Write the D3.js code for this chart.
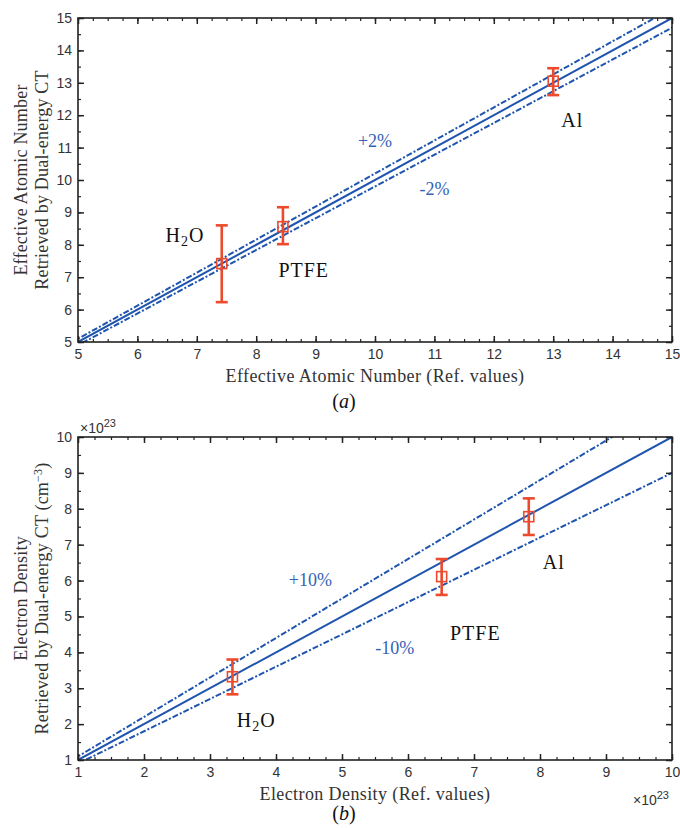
<!DOCTYPE html>
<html>
<head>
<meta charset="utf-8">
<script src="https://cdn.jsdelivr.net/npm/d3@7"></script>
<style>
  body { margin: 0; background: #fff; }
  .tick text { font-family: "Liberation Sans", Arial, sans-serif; font-size: 14px; fill: #333; }
</style>
</head>
<body>
<script>
"use strict";

// materials
var materials = ["H2O", "PTFE", "Al"];

// (a) effective atomic number
var zRef  = [7.42, 8.45, 13.0];
var zMeas = [7.42, 8.56, 13.05];
var zLow  = [6.23, 8.02, 12.62];
var zHigh = [8.60, 9.16, 13.45];
var zBand = [1.02, 0.98];
var zTicks = [5, 6, 7, 8, 9, 10, 11, 12, 13, 14, 15];

// (b) electron density (x 10^23)
var rhoRef  = [3.34, 6.51, 7.83];
var rhoMeas = [3.32, 6.11, 7.78];
var rhoLow  = [2.83, 5.60, 7.27];
var rhoHigh = [3.80, 6.60, 8.29];
var rhoBand = [1.1, 0.9];
var rhoTicks = [1, 2, 3, 4, 5, 6, 7, 8, 9, 10];

var blue = "#1f55ae";
var labelBlue = "#3562b5";
var red = "#ec4a2c";
var serif = "'Liberation Serif', 'Times New Roman', serif";

var width = 680, height = 828;
var svg = d3.select("body").append("svg")
    .attr("width", width)
    .attr("height", height);

function draw_panel(cfg) {
    var x = d3.scaleLinear().domain(cfg.domain).range([78, 672]);
    var y = d3.scaleLinear().domain(cfg.domain).range([cfg.bottom, cfg.top]);
    var g = svg.append("g");

    var clipId = "clip" + cfg.id;
    g.append("clipPath").attr("id", clipId)
        .append("rect")
        .attr("x", x.range()[0]).attr("y", cfg.top)
        .attr("width", x.range()[1] - x.range()[0])
        .attr("height", cfg.bottom - cfg.top);

    // reference lines y = x and the +/- band
    var line = d3.line().x(function(d) { return x(d[0]); }).y(function(d) { return y(d[1]); });
    var lines = [1].concat(cfg.band);
    var x0 = cfg.domain[0], x1 = cfg.domain[1];
    g.append("g").attr("clip-path", "url(#" + clipId + ")")
        .selectAll("path")
        .data(lines)
        .enter()
        .append("path")
        .attr("d", function(k) { return line([[x0 * 0.8, x0 * 0.8 * k], [x1 * 1.2, x1 * 1.2 * k]]); })
        .attr("fill", "none")
        .attr("stroke", blue)
        .attr("stroke-width", 2)
        .attr("stroke-dasharray", function(k) { return k === 1 ? null : "6,2,2,2"; });

    // minor ticks, inward, all four sides
    var minorX = d3.range(cfg.domain[0], cfg.domain[1] + 0.001, 0.25);
    var minorY = d3.range(cfg.domain[0], cfg.domain[1] + 0.001, 0.5);
    var minors = [
        [d3.axisBottom(x), "translate(0," + cfg.bottom + ")", minorX],
        [d3.axisTop(x), "translate(0," + cfg.top + ")", minorX],
        [d3.axisLeft(y), "translate(78,0)", minorY],
        [d3.axisRight(y), "translate(672,0)", minorY]
    ];
    minors.forEach(function(a) {
        var s = g.append("g").attr("transform", a[1])
            .call(a[0].tickValues(a[2]).tickSize(-3).tickFormat(""));
        s.select(".domain").remove();
        s.selectAll("line").attr("stroke", "#222").attr("stroke-width", 1.2);
    });
    // major ticks
    var majors = [
        [d3.axisBottom(x), "translate(0," + cfg.bottom + ")", true, 7],
        [d3.axisTop(x), "translate(0," + cfg.top + ")", false, 6],
        [d3.axisLeft(y), "translate(78,0)", true, 6],
        [d3.axisRight(y), "translate(672,0)", false, 6]
    ];
    majors.forEach(function(a) {
        var ax = a[0].tickValues(cfg.ticks).tickSize(-6).tickPadding(a[3])
            .tickFormat(a[2] ? d3.format("d") : "");
        var s = g.append("g").attr("transform", a[1]).call(ax);
        s.select(".domain").remove();
        s.selectAll("line").attr("stroke", "#222").attr("stroke-width", 1.5);
    });
    g.append("rect")
        .attr("x", 78).attr("y", cfg.top)
        .attr("width", 594).attr("height", cfg.bottom - cfg.top)
        .attr("fill", "none").attr("stroke", "#222").attr("stroke-width", 1.6);

    // error bars with square markers
    var pts = materials.map(function(m, i) {
        return { name: m, x: cfg.xs[i], y: cfg.ys[i], lo: cfg.lo[i], hi: cfg.hi[i] };
    });
    var eb = g.selectAll(".eb").data(pts).enter().append("g").attr("class", "eb")
        .attr("stroke", red).attr("fill", "none");
    eb.append("line")
        .attr("x1", function(d) { return x(d.x); }).attr("x2", function(d) { return x(d.x); })
        .attr("y1", function(d) { return y(d.lo); }).attr("y2", function(d) { return y(d.hi); })
        .attr("stroke-width", 2.6);
    ["lo", "hi"].forEach(function(k) {
        eb.append("line")
            .attr("x1", function(d) { return x(d.x) - 6; }).attr("x2", function(d) { return x(d.x) + 6; })
            .attr("y1", function(d) { return y(d[k]); }).attr("y2", function(d) { return y(d[k]); })
            .attr("stroke-width", 2.6);
    });
    eb.append("rect")
        .attr("x", function(d) { return x(d.x) - 5; })
        .attr("y", function(d) { return y(d.y) - 5; })
        .attr("width", 10).attr("height", 10)
        .attr("fill", "none")
        .attr("stroke-width", 1.6);

    // annotations
    cfg.notes.forEach(function(n) {
        var t = g.append("text").attr("font-family", serif)
            .attr("x", x(n.x)).attr("y", y(n.y)).attr("dy", "0.35em")
            .attr("text-anchor", "middle")
            .attr("font-size", n.blue ? 18 : 20)
            .attr("letter-spacing", n.blue ? 0 : 1)
            .attr("fill", n.blue ? labelBlue : "#111");
        if (n.t === "H2O") {
            t.append("tspan").text("H");
            t.append("tspan").attr("dy", 4).attr("font-size", 14).text("2");
            t.append("tspan").attr("dy", -4).text("O");
        } else {
            t.text(n.t);
        }
    });

    // x title
    svg.append("text").attr("font-family", serif)
        .attr("x", 375).attr("y", cfg.bottom + 40)
        .attr("text-anchor", "middle").attr("font-size", 18)
        .attr("letter-spacing", 0.4).attr("fill", "#333")
        .text(cfg.xTitle);
    var lab = svg.append("text").attr("font-family", serif)
        .attr("x", 344).attr("y", cfg.bottom + cfg.letterDy)
        .attr("text-anchor", "middle").attr("font-size", 20).attr("fill", "#111");
    lab.append("tspan").text("(");
    lab.append("tspan").attr("font-style", "italic").text(cfg.letter);
    lab.append("tspan").text(")");

    // y title, two lines
    var cy = (cfg.top + cfg.bottom) / 2;
    cfg.yTitle.forEach(function(s, i) {
        var t = svg.append("text").attr("font-family", serif)
            .attr("transform", "translate(" + (27 + i * 21) + "," + cy + ")rotate(-90)")
            .attr("text-anchor", "middle").attr("font-size", 18)
            .attr("letter-spacing", 0.2).attr("fill", "#333");
        if (s === "CM3") {
            t.append("tspan").text("Retrieved by Dual-energy CT (cm");
            t.append("tspan").attr("dy", -6).attr("font-size", 12).text("\u22123");
            t.append("tspan").attr("dy", 6).text(")");
        } else {
            t.text(s);
        }
    });
}

draw_panel({
    id: "a", domain: [5, 15], ticks: zTicks, top: 18, bottom: 342,
    xs: zRef, ys: zMeas, lo: zLow, hi: zHigh, band: zBand,
    xTitle: "Effective Atomic Number (Ref. values)", letter: "a", letterDy: 66,
    yTitle: ["Effective Atomic Number", "Retrieved by Dual-energy CT"],
    notes: [
        { t: "+2%", x: 10.0, y: 11.2, blue: true },
        { t: "-2%", x: 11.0, y: 9.72, blue: true },
        { t: "Al", x: 13.32, y: 11.85 },
        { t: "H2O", x: 6.8, y: 8.3 },
        { t: "PTFE", x: 8.8, y: 7.22 }
    ]
});

draw_panel({
    id: "b", domain: [1, 10], ticks: rhoTicks, top: 437, bottom: 760,
    xs: rhoRef, ys: rhoMeas, lo: rhoLow, hi: rhoHigh, band: rhoBand,
    xTitle: "Electron Density (Ref. values)", letter: "b", letterDy: 60,
    yTitle: ["Electron Density", "CM3"],
    notes: [
        { t: "+10%", x: 4.52, y: 6.01, blue: true },
        { t: "-10%", x: 5.8, y: 4.12, blue: true },
        { t: "PTFE", x: 7.02, y: 4.54 },
        { t: "Al", x: 8.21, y: 6.52 },
        { t: "H2O", x: 3.70, y: 2.11 }
    ]
});

// exponent markers
function expo(xp, yp) {
    var t = svg.append("text")
        .attr("x", xp).attr("y", yp)
        .attr("font-family", "'Liberation Sans', Arial, sans-serif")
        .attr("font-size", 14).attr("fill", "#333");
    t.append("tspan").text("\u00d710");
    t.append("tspan").attr("dy", -6).attr("font-size", 11).text("23");
}
expo(80, 433);
expo(633, 805);
</script>
</body>
</html>
